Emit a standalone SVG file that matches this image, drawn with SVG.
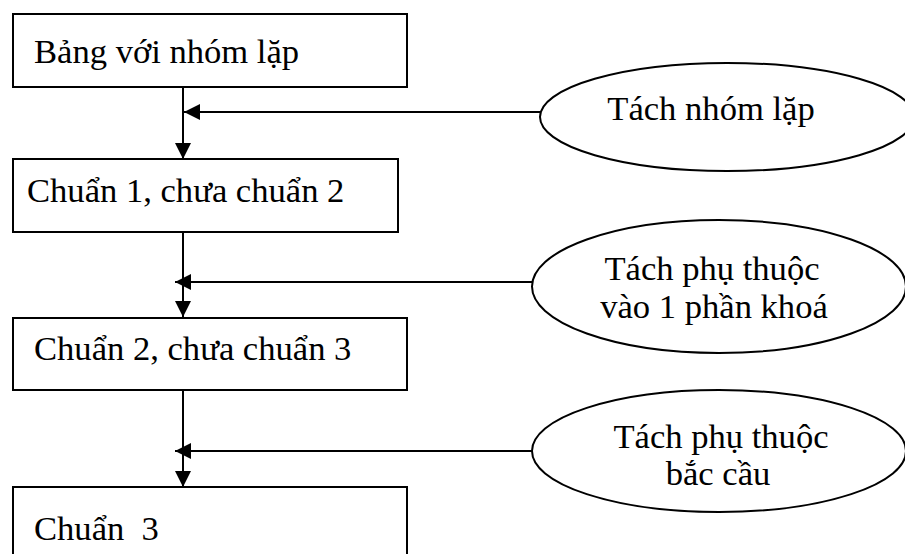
<svg xmlns="http://www.w3.org/2000/svg" width="905" height="554" viewBox="0 0 905 554">
<style>
.box{fill:#fff;stroke:#000;stroke-width:2}
.ell{fill:#fff;stroke:#000;stroke-width:2}
.t{font-family:"Liberation Serif","Times New Roman",serif;font-size:34.6px;fill:#000;white-space:pre}
.m{text-anchor:middle}
.c{stroke:#000;stroke-width:2;fill:none}
</style>
<defs>
<marker id="ah" viewBox="0 0 16 16" refX="16" refY="8" markerWidth="16" markerHeight="16" markerUnits="userSpaceOnUse" orient="auto">
<path d="M0,0 L16,8 L0,16 Z" fill="#000"/>
</marker>
</defs>
<rect width="905" height="554" fill="#fff"/>
<g id="box1"><rect class="box" x="13" y="14" width="394" height="73"/><text class="t" x="34" y="63">Bảng với nhóm lặp</text></g>
<g id="box2"><rect class="box" x="13" y="159" width="385" height="73"/><text class="t" x="27" y="202">Chuẩn 1, chưa chuẩn 2</text></g>
<g id="box3"><rect class="box" x="13" y="318" width="394" height="72"/><text class="t" x="34" y="360">Chuẩn 2, chưa chuẩn 3</text></g>
<g id="box4"><rect class="box" x="13" y="487" width="394" height="80"/><text class="t" x="34" y="540">Chuẩn  3</text></g>
<g id="ell1"><ellipse class="ell" cx="727" cy="117" rx="187" ry="54"/><text class="t m" x="711" y="120">Tách nhóm lặp</text></g>
<g id="ell2"><ellipse class="ell" cx="719" cy="286.5" rx="187" ry="66.5"/><text class="t m" x="712" y="280">Tách phụ thuộc</text><text class="t m" x="714" y="318">vào 1 phần khoá</text></g>
<g id="ell3"><ellipse class="ell" cx="719" cy="451" rx="187" ry="61"/><text class="t m" x="721" y="448">Tách phụ thuộc</text><text class="t m" x="718" y="485">bắc cầu</text></g>
<g id="connectors">
<line class="c" x1="183" y1="87" x2="183" y2="159" marker-end="url(#ah)"/>
<line class="c" x1="541" y1="112" x2="184" y2="112" marker-end="url(#ah)"/>
<line class="c" x1="183" y1="232" x2="183" y2="317" marker-end="url(#ah)"/>
<line class="c" x1="533" y1="282" x2="175" y2="282" marker-end="url(#ah)"/>
<line class="c" x1="183" y1="390" x2="183" y2="487" marker-end="url(#ah)"/>
<line class="c" x1="533" y1="451" x2="175" y2="451" marker-end="url(#ah)"/>
</g>
</svg>
